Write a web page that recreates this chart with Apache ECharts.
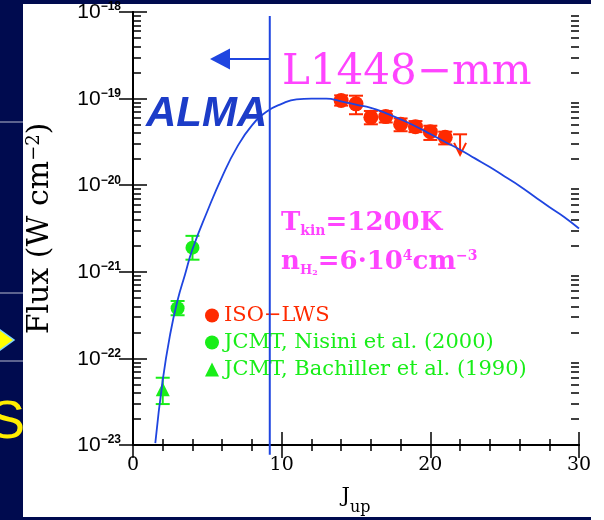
<!DOCTYPE html>
<html>
<head>
<meta charset="utf-8">
<script src="https://cdn.jsdelivr.net/npm/echarts@6/dist/echarts.min.js"></script>
<style>
html, body { margin: 0; padding: 0; background: #fff; }
#chart { width: 604px; height: 520px; }
</style>
</head>
<body>
<div id="chart"></div>
<script>
// ISO-LWS fluxes (W cm-2) with error bar ends
var isoJ = [14, 15, 16, 17, 18, 19, 20, 21];
var isoFlux = [9.5e-20, 8.7e-20, 6.1e-20, 6.2e-20, 5.05e-20, 4.74e-20, 4.15e-20, 3.57e-20];
var isoLow = [8.3e-20, 6.6e-20, 5.05e-20, 5.3e-20, 4.2e-20, 4.1e-20, 3.33e-20, 2.96e-20];
var isoHigh = [1.09e-19, 1.08e-19, 7.2e-20, 7.2e-20, 5.9e-20, 5.5e-20, 4.86e-20, 4.15e-20];
// upper limit
var limitJ = [22];
var limitTop = [3.87e-20];
var limitTip = [2.24e-20];

var nisiniJ = [3, 4];
var nisiniFlux = [3.8e-22, 1.9e-21];
var nisiniLow = [3.15e-22, 1.38e-21];
var nisiniHigh = [4.6e-22, 2.6e-21];

var bachillerJ = [2];
var bachillerFlux = [4.4e-23];
var bachillerLow = [2.97e-23];
var bachillerHigh = [5.98e-23];

// LVG model, Tkin = 1200 K
var modelJ = [1.5, 2, 2.5, 3, 3.5, 4, 5, 6, 7, 8, 9, 10, 11, 12, 13, 14, 15, 16, 17, 18, 19, 20, 21, 22, 23, 24, 25, 26, 27, 28, 29, 30];
var modelFlux = [1.05e-23, 5.6e-23, 1.9e-22, 4.7e-22, 9.3e-22, 1.82e-21, 5.0e-21, 1.26e-20, 2.75e-20, 4.9e-20,
    7.1e-20, 8.7e-20, 9.8e-20, 1.0e-19, 1.0e-19, 9.3e-20, 8.5e-20, 7.8e-20, 6.8e-20, 5.75e-20,
    4.8e-20, 3.9e-20, 3.16e-20, 2.57e-20, 2.04e-20, 1.62e-20, 1.26e-20, 9.8e-21, 7.4e-21, 5.6e-21,
    4.3e-21, 3.16e-21];

// ALMA limit line and arrow
var almaJ = [9.2, 9.2];
var almaFlux = [9.0e-19, 7.7e-24];
var arrowJ = [9.2, 5.85];
var arrowFlux = 2.86e-19;

var xTickLabels = ['0', '10', '20', '30'];
var yMajor = [1e-23, 1e-22, 1e-21, 1e-20, 1e-19, 1e-18];
var yDecades = [-23, -22, -21, -20, -19, -18];

var RED = '#ff2a00';
var GREEN = '#18ee18';
var BLUE = '#1f45e0';
var MAGENTA = '#ff44ff';
var NAVY = '#000b4f';

function zip(a, b) {
    var out = [];
    for (var i = 0; i < a.length; i++) out.push([a[i], b[i]]);
    return out;
}
function zip3(a, b, c) {
    var out = [];
    for (var i = 0; i < a.length; i++) out.push([a[i], b[i], c[i]]);
    return out;
}

// minor tick values 2..9 per decade
var yMinor = [];
for (var d = 0; d < yDecades.length - 1; d++) {
    for (var k = 2; k <= 9; k++) {
        yMinor.push(k * Math.pow(10, yDecades[d]));
    }
}

function errorBarItem(params, api) {
    var x = api.value(0);
    var lo = api.coord([x, api.value(1)]);
    var hi = api.coord([x, api.value(2)]);
    var w = 7;
    var color = api.visual('color');
    return {
        type: 'group',
        children: [
            { type: 'line', shape: { x1: lo[0], y1: lo[1], x2: hi[0], y2: hi[1] }, style: { stroke: color, lineWidth: 2 } },
            { type: 'line', shape: { x1: lo[0] - w, y1: lo[1], x2: lo[0] + w, y2: lo[1] }, style: { stroke: color, lineWidth: 2 } },
            { type: 'line', shape: { x1: hi[0] - w, y1: hi[1], x2: hi[0] + w, y2: hi[1] }, style: { stroke: color, lineWidth: 2 } }
        ]
    };
}

function limitItem(params, api) {
    var x = api.value(0);
    var top = api.coord([x, api.value(1)]);
    var tip = api.coord([x, api.value(2)]);
    return {
        type: 'group',
        children: [
            { type: 'line', shape: { x1: top[0] - 7, y1: top[1], x2: top[0] + 7, y2: top[1] }, style: { stroke: RED, lineWidth: 2 } },
            { type: 'line', shape: { x1: top[0], y1: top[1], x2: tip[0], y2: tip[1] }, style: { stroke: RED, lineWidth: 2 } },
            { type: 'polyline', shape: { points: [[tip[0] - 6, tip[1] - 12], [tip[0], tip[1]], [tip[0] + 6, tip[1] - 12]] }, style: { stroke: RED, lineWidth: 2, fill: null } }
        ]
    };
}

// axis carrying only the 2..9 minor ticks
function minorAxis(pos) {
    return {
        type: 'log', logBase: 10, min: 1e-23, max: 1e-18, position: pos, offset: 0,
        axisLine: { show: false },
        axisTick: { show: true, inside: true, length: 8, customValues: yMinor, lineStyle: { color: '#000', width: 1.5 } },
        splitLine: { show: false },
        axisLabel: { show: false }
    };
}

var chart = echarts.init(document.getElementById('chart'));

var option = {
    backgroundColor: '#fff',
    animation: false,
    grid: { left: 133, top: 12, width: 446, height: 433, containLabel: false, outerBoundsMode: 'none' },
    legend: {
        orient: 'vertical',
        left: 200,
        top: 300,
        itemWidth: 14,
        itemHeight: 14,
        itemGap: 6,
        textStyle: { fontFamily: 'DejaVu Serif', fontSize: 21, lineHeight: 20 },
        data: [
            { name: 'ISO−LWS', icon: 'circle', textStyle: { color: RED } },
            { name: 'JCMT, Nisini et al. (2000)', icon: 'circle', textStyle: { color: GREEN } },
            { name: 'JCMT, Bachiller et al. (1990)', icon: 'triangle', textStyle: { color: GREEN } }
        ]
    },
    xAxis: [{
        type: 'value', min: 0, max: 30, interval: 10,
        axisLine: { lineStyle: { color: '#000', width: 2 } },
        axisTick: { inside: true, length: 13, lineStyle: { color: '#000', width: 1.5 } },
        minorTick: { show: true, splitNumber: 5, length: 6, lineStyle: { color: '#000', width: 1.5 } },
        splitLine: { show: false },
        axisLabel: {
            margin: 11, fontFamily: 'DejaVu Serif', fontSize: 19, color: '#000',
            formatter: function (v) { return xTickLabels[v / 10]; }
        },
        name: '{j|J}{u|up}',
        nameLocation: 'middle',
        nameGap: 41,
        nameMoveOverlap: false,
        nameTextStyle: {
            rich: {
                j: { fontFamily: 'DejaVu Serif', fontSize: 21, color: '#000', lineHeight: 30, verticalAlign: 'top' },
                u: { fontFamily: 'DejaVu Serif', fontSize: 16, color: '#000', lineHeight: 13, verticalAlign: 'bottom' }
            }
        }
    }, {
        type: 'value', min: 0, max: 30, interval: 10, position: 'top',
        axisLine: { lineStyle: { color: '#000', width: 2 } },
        axisTick: { inside: true, length: 13, lineStyle: { color: '#000', width: 1.5 } },
        minorTick: { show: true, splitNumber: 5, length: 6, lineStyle: { color: '#000', width: 1.5 } },
        splitLine: { show: false },
        axisLabel: { show: false }
    }],
    yAxis: [{
        type: 'log', logBase: 10, min: 1e-23, max: 1e-18, position: 'left', offset: 0,
        axisLine: { show: true, lineStyle: { color: '#000', width: 2 } },
        axisTick: { inside: true, length: 14, customValues: yMajor, lineStyle: { color: '#000', width: 1.5 } },
        splitLine: { show: false },
        axisLabel: {
            margin: 12,
            customValues: yMajor,
            showMinLabel: true,
            showMaxLabel: true,
            hideOverlap: false,
            formatter: function (v) {
                var e = Math.round(Math.log10(v));
                return '{b|10}{s|−' + (-e) + '}';
            },
            rich: {
                b: { fontFamily: 'Liberation Sans', fontSize: 21, color: '#000', lineHeight: 22, verticalAlign: 'bottom' },
                s: { fontFamily: 'Liberation Sans', fontSize: 12, fontWeight: 'bold', color: '#000', lineHeight: 12, verticalAlign: 'top' }
            }
        },
        name: 'Flux (W cm{s|−2})',
        nameLocation: 'middle',
        nameGap: 78,
        nameRotate: 90,
        nameMoveOverlap: false,
        nameTextStyle: {
            fontFamily: 'DejaVu Serif', fontSize: 30, color: '#000',
            rich: {
                s: { fontFamily: 'DejaVu Serif', fontSize: 18, color: '#000', verticalAlign: 'top', lineHeight: 15 }
            }
        }
    }, {
        type: 'log', logBase: 10, min: 1e-23, max: 1e-18, position: 'right', offset: 0,
        axisLine: { show: true, lineStyle: { color: '#000', width: 2 } },
        axisTick: { inside: true, length: 14, customValues: yMajor, lineStyle: { color: '#000', width: 1.5 } },
        splitLine: { show: false },
        axisLabel: { show: false }
    }, minorAxis('left'), minorAxis('right')],
    graphic: [
        { type: 'rect', z: -10, shape: { x: 0, y: 0, width: 23, height: 520 }, style: { fill: NAVY } },
        { type: 'rect', z: -10, shape: { x: 0, y: 0, width: 591, height: 4 }, style: { fill: NAVY } },
        { type: 'rect', z: -10, shape: { x: 0, y: 517, width: 591, height: 3 }, style: { fill: NAVY } },
        { type: 'line', shape: { x1: 0, y1: 122, x2: 23, y2: 122 }, style: { stroke: '#b8bccf', lineWidth: 1 } },
        { type: 'line', shape: { x1: 0, y1: 293, x2: 23, y2: 293 }, style: { stroke: '#b8bccf', lineWidth: 1 } },
        { type: 'line', shape: { x1: 0, y1: 361, x2: 23, y2: 361 }, style: { stroke: '#b8bccf', lineWidth: 1 } },
        { type: 'polygon', shape: { points: [[-4, 327], [14, 340], [-4, 353]] }, style: { fill: '#ffff00', stroke: '#7fd4ff', lineWidth: 1.5 } },
        { type: 'text', style: { text: 'S', x: 25, y: 450, textAlign: 'right', textVerticalAlign: 'bottom', fill: '#ffee00', font: '54px "Liberation Sans"' } },
        {
            type: 'text', z: 10,
            style: { text: 'ALMA', x: 146, y: 135, textVerticalAlign: 'bottom', fill: '#1c3cc8', font: 'italic bold 42px "Liberation Sans"' }
        },
        {
            type: 'text', z: 10,
            style: { text: 'L1448−mm', x: 282, y: 94, textVerticalAlign: 'bottom', fill: MAGENTA, font: '42px "DejaVu Serif"' }
        },
        {
            type: 'text', z: 10,
            style: {
                x: 281, y: 210,
                text: '{b|T}{s|kin}{b|=1200K}',
                rich: {
                    b: { fontFamily: 'DejaVu Serif', fontWeight: 'bold', fontSize: 26, fill: MAGENTA, lineHeight: 28, verticalAlign: 'top' },
                    s: { fontFamily: 'DejaVu Serif', fontWeight: 'bold', fontSize: 14, fill: MAGENTA, lineHeight: 14, verticalAlign: 'bottom' }
                }
            }
        },
        {
            type: 'text', z: 10,
            style: {
                x: 281, y: 249,
                text: '{b|n}{s|H}{ss|2}{b|=6·10}{p|4}{b|cm}{p|−3}',
                rich: {
                    b: { fontFamily: 'DejaVu Serif', fontWeight: 'bold', fontSize: 26, fill: MAGENTA, lineHeight: 28, verticalAlign: 'top' },
                    s: { fontFamily: 'DejaVu Serif', fontWeight: 'bold', fontSize: 13, fill: MAGENTA, lineHeight: 10, verticalAlign: 'bottom' },
                    ss: { fontFamily: 'DejaVu Serif', fontWeight: 'bold', fontSize: 8, fill: MAGENTA, lineHeight: 6, verticalAlign: 'bottom' },
                    p: { fontFamily: 'DejaVu Serif', fontWeight: 'bold', fontSize: 14, fill: MAGENTA, lineHeight: 26, verticalAlign: 'top' }
                }
            }
        }
    ],
    series: [
        {
            type: 'custom', z: 4, itemStyle: { color: RED },
            renderItem: errorBarItem,
            data: zip3(isoJ, isoLow, isoHigh)
        },
        {
            type: 'custom', z: 4, itemStyle: { color: GREEN },
            renderItem: errorBarItem,
            data: zip3(nisiniJ, nisiniLow, nisiniHigh)
        },
        {
            type: 'custom', z: 4, itemStyle: { color: GREEN },
            renderItem: errorBarItem,
            data: zip3(bachillerJ, bachillerLow, bachillerHigh)
        },
        {
            type: 'custom', z: 4,
            renderItem: limitItem,
            data: zip3(limitJ, limitTop, limitTip)
        },
        {
            name: 'ISO−LWS', type: 'scatter', z: 5,
            symbol: 'circle', symbolSize: 15,
            itemStyle: { color: RED, opacity: 1 },
            data: zip(isoJ, isoFlux)
        },
        {
            name: 'JCMT, Nisini et al. (2000)', type: 'scatter', z: 5,
            symbol: 'circle', symbolSize: 14,
            itemStyle: { color: GREEN, opacity: 1 },
            data: zip(nisiniJ, nisiniFlux)
        },
        {
            name: 'JCMT, Bachiller et al. (1990)', type: 'scatter', z: 5,
            symbol: 'triangle', symbolSize: 14,
            itemStyle: { color: GREEN, opacity: 1 },
            data: zip(bachillerJ, bachillerFlux)
        },
        {
            name: 'model', type: 'line', z: 6,
            smooth: 0.5, showSymbol: false, symbol: 'none',
            lineStyle: { color: BLUE, width: 1.8 },
            data: zip(modelJ, modelFlux)
        },
        {
            name: 'alma', type: 'line', z: 6, clip: false,
            showSymbol: false, symbol: 'none',
            lineStyle: { color: BLUE, width: 2 },
            data: zip(almaJ, almaFlux)
        },
        {
            name: 'arrow', type: 'line', z: 6, clip: false,
            showSymbol: false, symbol: 'none',
            lineStyle: { color: BLUE, width: 2 },
            data: [],
            markLine: {
                silent: true, animation: false,
                symbol: ['none', 'triangle'],
                symbolSize: [21, 20],
                label: { show: false },
                lineStyle: { color: BLUE, width: 2, type: 'solid' },
                itemStyle: { color: BLUE },
                data: [[{ coord: [arrowJ[0], arrowFlux] }, { coord: [arrowJ[1], arrowFlux] }]]
            }
        }
    ]
};

chart.setOption(option);
</script>
</body>
</html>
